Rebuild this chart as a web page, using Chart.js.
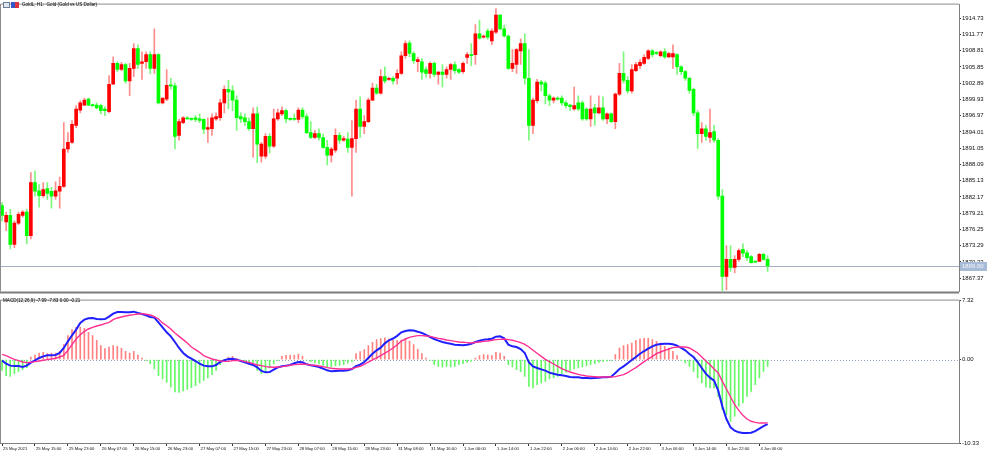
<!DOCTYPE html>
<html>
<head>
<meta charset="utf-8">
<script src="https://cdn.jsdelivr.net/npm/chart.js@4.4.1/dist/chart.umd.min.js"></script>
<style>
  html, body { margin: 0; padding: 0; background: #fff; }
  #wrap { position: relative; width: 987px; height: 456px; overflow: hidden; }
  #priceChart { position: absolute; left: 0; top: 0; }
  #macdChart { position: absolute; left: 0; top: 296px; }
</style>
</head>
<body>
<div id="wrap">
  <canvas id="priceChart" width="987" height="296"></canvas>
  <canvas id="macdChart" width="987" height="160"></canvas>
</div>
<script>
// GoldL H1 bars
const opens = [
  1880.6,1877.6,1878.8,1873.5,1877.4,1878.8,1879.4,1875.1,1884.8,1883.3,
  1882.4,1883.7,1883.2,1882.3,1883.2,1884.1,1890.9,1892.1,1895.2,1898.0,
  1898.9,1900.0,1898.9,1898.9,1898.8,1898.2,1897.7,1902.7,1906.5,1905.4,
  1906.3,1903.3,1905.6,1909.2,1906.5,1906.8,1908.1,1905.6,1908.1,1899.3,
  1900.0,1902.5,1902.4,1893.4,1895.7,1896.6,1896.4,1896.6,1896.4,1896.3,
  1894.5,1894.6,1896.4,1896.6,1899.3,1901.8,1901.5,1899.8,1896.8,1896.6,
  1895.9,1894.6,1897.3,1889.6,1889.6,1893.2,1891.4,1896.4,1897.3,1897.9,
  1896.4,1896.4,1896.3,1898.0,1896.8,1893.9,1893.0,1893.7,1893.0,1891.2,
  1889.8,1890.7,1893.4,1892.5,1892.7,1891.2,1892.8,1898.2,1895.0,1895.9,
  1899.8,1902.0,1901.1,1904.1,1903.6,1903.8,1903.8,1904.7,1907.9,1910.2,
  1908.3,1906.8,1906.8,1905.4,1904.7,1906.5,1904.5,1904.9,1904.5,1905.4,
  1906.3,1905.4,1905.0,1907.6,1908.1,1908.1,1911.9,1911.3,1912.4,1910.6,
  1912.2,1915.3,1912.8,1911.5,1905.6,1906.3,1908.8,1910.1,1903.8,1895.2,
  1899.7,1903.1,1902.9,1900.6,1899.8,1900.2,1900.2,1899.3,1898.9,1898.2,
  1899.3,1899.3,1898.2,1896.4,1898.4,1897.5,1898.4,1896.4,1897.3,1895.9,
  1900.9,1904.7,1903.4,1901.5,1905.2,1906.1,1906.5,1907.4,1908.8,1908.5,
  1907.9,1908.6,1907.7,1907.7,1908.1,1905.9,1905.0,1903.8,1901.8,1897.5,
  1893.7,1894.6,1893.0,1894.1,1892.5,1882.3,1867.7,1870.8,1869.3,1870.8,
  1872.6,1872.0,1871.3,1870.4,1870.4,1871.7,1870.8
];
const highs = [
  1881.2,1879.4,1879.9,1877.8,1879.4,1879.7,1879.9,1886.6,1886.9,1884.4,
  1884.8,1884.8,1883.9,1884.9,1885.8,1895.7,1893.9,1896.1,1898.8,1899.7,
  1900.2,1900.2,1899.1,1899.3,1899.1,1898.6,1904.3,1907.7,1906.8,1906.7,
  1906.5,1906.5,1910.1,1909.9,1908.6,1908.6,1908.6,1912.8,1908.3,1900.2,
  1905.4,1903.8,1902.9,1896.3,1896.8,1896.8,1896.6,1897.0,1897.3,1896.4,
  1896.6,1897.3,1897.5,1900.0,1902.4,1903.4,1902.4,1900.6,1897.5,1897.3,
  1896.6,1898.4,1898.6,1892.1,1893.7,1893.7,1898.2,1898.2,1898.6,1898.2,
  1896.6,1897.3,1898.4,1898.4,1897.3,1895.9,1894.3,1894.6,1893.6,1892.5,
  1891.2,1894.6,1893.9,1893.2,1893.9,1896.1,1899.8,1900.4,1897.0,1900.2,
  1902.9,1902.7,1905.4,1905.9,1904.0,1904.1,1905.4,1908.6,1910.6,1910.6,
  1908.6,1907.6,1907.4,1905.9,1906.8,1906.8,1905.0,1906.3,1905.9,1906.5,
  1906.8,1905.6,1906.8,1908.5,1910.1,1913.6,1914.4,1911.7,1912.8,1912.8,
  1916.5,1915.4,1913.5,1911.7,1909.0,1909.2,1911.0,1911.9,1909.0,1900.2,
  1903.6,1903.4,1903.3,1900.9,1900.4,1900.4,1900.6,1899.7,1899.1,1902.2,
  1900.6,1899.7,1898.4,1900.6,1899.1,1900.6,1900.4,1897.5,1897.5,1901.1,
  1906.5,1908.6,1904.1,1906.3,1906.7,1907.2,1908.1,1909.0,1909.0,1908.6,
  1908.8,1909.2,1908.5,1909.9,1908.3,1906.1,1905.2,1904.0,1902.0,1897.9,
  1895.7,1895.2,1898.2,1895.2,1892.8,1883.5,1873.3,1873.3,1871.5,1872.7,
  1873.6,1872.4,1871.5,1870.5,1871.9,1871.9,1871.5
];
const lows = [
  1877.8,1876.0,1872.7,1872.9,1877.1,1878.5,1873.6,1874.5,1882.3,1880.3,
  1882.1,1881.7,1880.1,1881.7,1880.1,1883.9,1890.3,1891.9,1894.8,1897.5,
  1898.8,1898.8,1898.6,1898.2,1897.3,1897.0,1897.5,1902.7,1905.0,1905.2,
  1902.9,1900.6,1904.1,1905.6,1903.6,1905.6,1904.7,1904.7,1899.1,1899.1,
  1899.7,1901.8,1890.9,1892.5,1895.5,1896.3,1896.1,1895.9,1895.7,1893.7,
  1892.1,1893.4,1896.1,1896.1,1897.5,1898.2,1897.9,1894.3,1895.7,1895.2,
  1894.3,1889.4,1888.4,1888.5,1889.2,1890.2,1891.2,1896.1,1897.0,1895.7,
  1896.1,1896.1,1895.7,1896.4,1893.7,1892.8,1892.8,1892.5,1891.0,1888.0,
  1888.5,1890.3,1891.9,1892.3,1890.3,1882.3,1890.3,1893.0,1893.7,1895.7,
  1899.7,1900.9,1900.9,1902.9,1903.4,1902.7,1902.7,1904.5,1907.4,1907.7,
  1906.5,1905.0,1903.6,1904.0,1903.8,1904.1,1902.7,1902.2,1903.8,1903.6,
  1904.7,1904.7,1904.7,1906.5,1906.1,1906.3,1910.9,1911.1,1910.9,1909.9,
  1911.9,1912.6,1911.3,1905.4,1905.0,1904.7,1906.3,1902.7,1892.5,1893.7,
  1899.3,1901.5,1899.1,1898.8,1899.3,1899.8,1898.9,1898.4,1897.9,1898.0,
  1897.9,1896.1,1896.1,1895.0,1895.2,1897.3,1896.1,1895.5,1895.7,1894.6,
  1900.6,1902.9,1901.1,1901.1,1905.0,1905.6,1906.3,1907.2,1907.7,1908.1,
  1907.7,1907.4,1907.6,1905.6,1904.5,1904.5,1903.4,1901.1,1897.0,1891.0,
  1892.1,1892.5,1892.1,1892.1,1881.7,1865.1,1865.2,1868.6,1868.3,1870.4,
  1871.3,1870.6,1870.1,1870.2,1870.4,1870.6,1868.6
];
const closes = [
  1878.8,1878.8,1873.5,1877.4,1879.0,1879.4,1875.1,1884.8,1883.2,1882.4,
  1883.5,1882.8,1882.3,1883.3,1884.1,1890.9,1892.1,1895.4,1898.2,1899.3,
  1899.8,1898.9,1898.8,1898.4,1897.9,1897.9,1902.7,1906.5,1905.4,1906.3,
  1903.3,1905.6,1909.2,1906.3,1906.8,1908.1,1905.6,1908.1,1899.3,1900.2,
  1902.5,1902.4,1893.2,1895.9,1896.6,1896.4,1896.3,1896.3,1896.1,1894.5,
  1894.8,1896.6,1896.8,1899.3,1901.8,1901.3,1899.8,1896.6,1896.4,1895.9,
  1894.6,1897.3,1891.8,1891.8,1893.2,1891.4,1896.4,1897.5,1897.9,1896.4,
  1896.3,1896.3,1898.0,1896.8,1893.9,1893.0,1893.7,1893.0,1891.2,1889.8,
  1890.9,1893.4,1892.5,1892.8,1891.2,1892.8,1898.2,1895.0,1895.9,1899.8,
  1902.0,1901.1,1904.1,1903.3,1903.8,1903.3,1904.7,1907.9,1910.1,1908.3,
  1907.0,1907.2,1904.9,1904.7,1906.5,1904.5,1904.9,1904.5,1905.4,1906.3,
  1905.2,1904.9,1906.5,1908.1,1907.9,1911.9,1911.1,1911.5,1911.3,1912.4,
  1915.3,1912.8,1911.5,1905.6,1906.5,1909.0,1910.1,1903.8,1895.2,1899.8,
  1903.1,1902.7,1900.6,1899.8,1900.2,1900.0,1899.3,1898.8,1898.6,1898.8,
  1898.2,1896.4,1896.4,1898.2,1897.5,1898.4,1896.4,1897.3,1895.9,1900.9,
  1904.7,1903.4,1901.5,1905.4,1906.3,1906.7,1907.6,1908.8,1908.1,1908.3,
  1908.6,1907.7,1908.3,1908.3,1905.9,1905.0,1903.8,1901.6,1897.5,1893.7,
  1894.6,1893.2,1893.9,1892.5,1882.3,1867.7,1870.8,1869.3,1870.8,1872.4,
  1871.9,1871.1,1870.2,1870.3,1871.7,1870.8,1869.6
];

// MACD(12,26,9) panel
const macdLine = [
  -0.12,-0.50,-0.74,-0.79,-0.79,-0.91,-0.74,-0.37,-0.08,0.21,
  0.41,0.54,0.54,0.58,0.83,1.45,2.27,3.02,3.72,4.55,
  4.96,5.12,5.17,5.04,5.00,5.04,5.33,5.70,5.91,5.91,
  5.87,5.87,5.95,5.79,5.66,5.50,5.29,5.21,4.63,4.01,
  3.39,2.89,2.19,1.45,0.83,0.41,0.12,-0.17,-0.50,-0.74,
  -0.83,-0.83,-0.66,-0.29,-0.08,0.08,0.12,0.00,-0.17,-0.33,
  -0.50,-0.66,-0.95,-1.40,-1.57,-1.53,-1.24,-0.95,-0.83,-0.74,
  -0.66,-0.45,-0.29,-0.33,-0.58,-0.70,-0.79,-0.91,-1.12,-1.32,
  -1.45,-1.40,-1.36,-1.36,-1.32,-1.16,-0.79,-0.62,-0.29,0.21,
  0.74,1.16,1.49,2.02,2.40,2.62,2.95,3.39,3.55,3.64,
  3.60,3.47,3.31,3.06,2.81,2.56,2.36,2.19,2.07,1.98,
  1.86,1.82,1.78,1.86,1.98,2.19,2.36,2.48,2.52,2.60,
  2.85,2.89,2.64,1.86,1.65,1.57,1.32,0.83,-0.33,-0.83,
  -1.03,-1.20,-1.36,-1.61,-1.74,-1.86,-1.94,-2.02,-2.15,-2.19,
  -2.19,-2.27,-2.27,-2.31,-2.27,-2.23,-2.19,-2.19,-2.11,-1.65,
  -1.16,-0.83,-0.45,-0.04,0.33,0.74,1.07,1.36,1.65,1.86,
  1.94,1.98,1.98,1.90,1.74,1.45,1.16,0.70,0.33,-0.29,
  -1.03,-1.74,-2.23,-2.60,-3.84,-5.79,-7.36,-8.39,-8.80,-9.01,
  -9.09,-9.09,-9.05,-8.85,-8.55,-8.25,-7.99
];
const signalLine = [
  0.66,0.50,0.25,0.04,-0.12,-0.29,-0.37,-0.33,-0.25,-0.17,
  -0.08,0.00,0.08,0.17,0.33,0.54,1.16,1.86,2.56,3.10,
  3.51,3.80,4.01,4.17,4.30,4.46,4.63,4.96,5.17,5.29,
  5.41,5.50,5.58,5.66,5.70,5.62,5.54,5.33,5.04,4.55,
  4.21,3.80,3.31,2.89,2.48,2.07,1.57,1.24,0.91,0.50,
  0.29,0.08,-0.04,-0.17,-0.21,-0.21,-0.12,-0.08,-0.12,-0.25,
  -0.33,-0.50,-0.66,-0.74,-0.87,-0.91,-0.95,-0.91,-0.87,-0.79,
  -0.70,-0.62,-0.58,-0.54,-0.58,-0.66,-0.70,-0.79,-0.87,-0.99,
  -1.07,-1.12,-1.16,-1.16,-1.16,-1.12,-0.95,-0.83,-0.58,-0.29,
  -0.04,0.21,0.50,0.80,1.10,1.45,1.85,2.31,2.56,2.77,
  2.89,2.98,2.98,2.93,2.89,2.77,2.64,2.56,2.44,2.36,
  2.27,2.19,2.15,2.11,2.07,2.15,2.19,2.27,2.31,2.40,
  2.48,2.52,2.56,2.48,2.40,2.27,2.11,1.90,1.57,1.16,
  0.79,0.41,0.04,-0.25,-0.54,-0.83,-1.12,-1.32,-1.53,-1.69,
  -1.82,-1.94,-2.02,-2.07,-2.11,-2.15,-2.15,-2.15,-2.15,-2.11,
  -1.98,-1.86,-1.61,-1.28,-0.99,-0.62,-0.25,0.08,0.41,0.74,
  0.95,1.16,1.32,1.49,1.57,1.57,1.57,1.45,1.16,0.83,
  0.33,-0.17,-0.62,-1.16,-1.65,-2.69,-3.64,-4.63,-5.58,-6.28,
  -6.90,-7.36,-7.64,-7.78,-7.86,-7.86,-7.83
];
const histogram = [
  -1.32,-1.98,-2.07,-1.74,-1.49,-1.24,-0.99,0.33,0.58,0.83,
  0.91,0.74,0.83,0.83,1.03,1.86,2.98,3.72,4.01,4.05,
  3.88,3.39,2.98,2.40,1.74,1.36,1.57,1.74,1.65,1.40,
  1.03,0.83,1.03,0.58,0.21,-0.08,-0.50,-1.16,-1.98,-2.40,
  -2.81,-3.39,-4.01,-4.05,-3.88,-3.68,-3.47,-3.22,-2.89,-2.56,
  -2.27,-1.86,-1.32,-0.62,-0.08,0.33,0.41,0.17,-0.25,-0.41,
  -0.50,-0.74,-1.32,-1.74,-1.57,-1.03,-0.54,-0.10,0.41,0.54,
  0.54,0.58,0.70,0.41,-0.05,-0.25,-0.41,-0.54,-0.70,-0.87,
  -0.87,-0.79,-0.70,-0.62,-0.45,-0.25,0.74,0.99,1.24,1.74,
  2.15,2.48,2.60,2.69,2.56,2.44,2.40,2.44,2.56,2.31,
  1.86,1.28,0.74,0.21,-0.10,-0.62,-0.83,-0.91,-0.83,-0.91,
  -0.83,-0.62,-0.50,-0.33,-0.21,0.21,0.50,0.62,0.58,0.50,
  0.91,0.83,0.41,-0.62,-0.91,-1.24,-1.49,-2.07,-3.31,-3.51,
  -3.10,-2.89,-2.69,-2.40,-2.27,-2.07,-1.74,-1.57,-1.32,-1.16,
  -1.03,-0.91,-0.74,-0.62,-0.50,-0.33,-0.25,-0.17,-0.08,0.62,
  1.45,1.74,1.86,2.07,2.40,2.56,2.64,2.64,2.48,2.27,
  2.07,1.65,1.45,1.03,0.50,-0.10,-0.41,-0.83,-1.45,-2.27,
  -2.89,-3.39,-3.51,-3.51,-4.55,-6.20,-6.82,-7.64,-7.02,-5.79,
  -5.37,-4.55,-3.93,-3.10,-2.27,-1.45,-0.83
];

// axis labels
const priceTicks = [1914.73,1911.77,1908.81,1905.85,1902.89,1899.93,1896.97,1894.01,1891.05,
  1888.09,1885.13,1882.17,1879.21,1876.25,1873.29,1870.33,1867.37];
const macdTicks = [7.32, 0, -10.33];
const timeTicks = ['25 May 2021','25 May 15:00','25 May 23:00','26 May 07:00','26 May 15:00',
  '26 May 23:00','27 May 07:00','27 May 15:00','27 May 23:00','28 May 07:00','28 May 15:00',
  '28 May 23:00','31 May 08:00','31 May 16:00','1 Jun 06:00','1 Jun 14:00','1 Jun 22:00',
  '2 Jun 06:00','2 Jun 14:00','2 Jun 22:00','3 Jun 06:00','3 Jun 14:00','3 Jun 22:00','4 Jun 06:00'];

const SLOTS = 233;      // visible bar slots incl. empty right margin
const TICK_EVERY = 8;
const AXIS_W = 28;
const UP = '#ff0000', DOWN = '#00ff00';

const slotLabels = Array.from({length: SLOTS}, (_, i) =>
  (i % TICK_EVERY === 0 && timeTicks[i / TICK_EVERY]) ? timeTicks[i / TICK_EVERY] : '');

const isUp = i => closes[i] >= opens[i];

// frame, captions, price line, zero line
const panelDeco = {
  id: 'panelDeco',
  beforeDatasetsDraw(chart, args, opts) {
    const {ctx, chartArea: a, scales} = chart;
    ctx.save();
    if (opts.priceLine != null) {
      const y = Math.round(scales.y.getPixelForValue(opts.priceLine)) + 0.5;
      ctx.strokeStyle = '#a3afbf';
      ctx.lineWidth = 1;
      ctx.beginPath(); ctx.moveTo(a.left, y); ctx.lineTo(a.right, y); ctx.stroke();
    }
    if (opts.zeroLine) {
      const y = Math.round(scales.y.getPixelForValue(0)) + 0.5;
      ctx.strokeStyle = '#8fa3bd';
      ctx.setLineDash([1, 2]);
      ctx.beginPath(); ctx.moveTo(a.left, y); ctx.lineTo(a.right, y); ctx.stroke();
    }
    ctx.restore();
  },
  afterDraw(chart, args, opts) {
    const {ctx, chartArea: a, scales} = chart;
    ctx.save();
    ctx.strokeStyle = '#8c8c8c';
    ctx.lineWidth = 1;
    ctx.beginPath();
    ctx.moveTo(a.left + 0.5, a.bottom); ctx.lineTo(a.left + 0.5, a.top - 0.5);
    ctx.lineTo(a.right, a.top - 0.5);
    ctx.stroke();
    if (opts.thickBottom) {
      ctx.lineWidth = 2;
      ctx.strokeStyle = '#7d7d7d';
      ctx.beginPath(); ctx.moveTo(a.left, a.bottom + 1); ctx.lineTo(a.right, a.bottom + 1); ctx.stroke();
    }
    if (opts.icon) {
      ctx.fillStyle = '#dfe6f0'; ctx.fillRect(3, 2, 7, 6);
      ctx.strokeStyle = '#6d7f99'; ctx.lineWidth = 1; ctx.strokeRect(3.5, 2.5, 6, 5);
      ctx.fillStyle = '#3557c8'; ctx.fillRect(11, 2, 4, 6);
      ctx.fillStyle = '#d8343a'; ctx.fillRect(15, 2, 4, 6);
    }
    if (opts.caption) {
      ctx.fillStyle = '#000';
      ctx.font = '4.6px "Liberation Sans"';
      ctx.textBaseline = 'middle';
      ctx.fillText(opts.caption, opts.captionX, opts.captionY);
    }
    if (opts.priceLine != null) {
      const y = Math.round(scales.y.getPixelForValue(opts.priceLine));
      ctx.fillStyle = '#a7bad6';
      ctx.fillRect(a.right + 1, y - 4, 27, 9);
      ctx.fillStyle = '#f5f8fd';
      ctx.font = '6px "Liberation Sans"';
      ctx.textBaseline = 'middle';
      ctx.fillText(opts.priceLine.toFixed(2), a.right + 3, y + 0.5);
    }
    ctx.restore();
  }
};

const yTickFont = {family: 'Liberation Sans', size: 6};

new Chart(document.getElementById('priceChart'), {
  type: 'bar',
  data: {
    labels: slotLabels,
    datasets: [
      {
        label: 'wick',
        data: lows.map((l, i) => [l, highs[i]]),
        backgroundColor: c => isUp(c.dataIndex) ? '#ff8c8c' : '#7cf87c',
        barThickness: 1,
        grouped: false,
        order: 2
      },
      {
        label: 'body',
        data: opens.map((o, i) => [o, closes[i]]),
        backgroundColor: c => isUp(c.dataIndex) ? UP : DOWN,
        barThickness: 3,
        minBarLength: 1,
        grouped: false,
        order: 1
      }
    ]
  },
  options: {
    responsive: false,
    animation: false,
    layout: {padding: {left: 0, right: 0, top: 2, bottom: 3}},
    plugins: {
      legend: {display: false},
      tooltip: {enabled: false},
      panelDeco: {
        priceLine: closes[closes.length - 1],
        thickBottom: true,
        icon: true,
        caption: 'GoldL, H1:  Gold (Gold vs US Dollar)',
        captionX: 22, captionY: 5
      }
    },
    scales: {
      x: {type: 'category', display: false, offset: true, grid: {display: false}},
      y: {
        position: 'right',
        min: 1864.95, max: 1917.22,
        afterFit: s => { s.width = AXIS_W; },
        afterBuildTicks: s => { s.ticks = priceTicks.map(v => ({value: v})); },
        grid: {drawOnChartArea: false, drawTicks: true, tickLength: 2, tickColor: '#333'},
        border: {display: true, color: '#808080'},
        ticks: {font: yTickFont, color: '#111', padding: 1, callback: v => v.toFixed(2)}
      }
    }
  },
  plugins: [panelDeco]
});

new Chart(document.getElementById('macdChart'), {
  type: 'bar',
  data: {
    labels: slotLabels,
    datasets: [
      {
        type: 'line', label: 'Signal', data: signalLine,
        borderColor: '#ff2f92', borderWidth: 1.4, pointRadius: 0, order: 1
      },
      {
        type: 'line', label: 'MACD', data: macdLine,
        borderColor: '#2020ff', borderWidth: 2, pointRadius: 0, order: 2
      },
      {
        label: 'Hist', data: histogram,
        backgroundColor: c => histogram[c.dataIndex] >= 0 ? '#ff8080' : '#66f866',
        barThickness: 1, grouped: false, order: 3
      }
    ]
  },
  options: {
    responsive: false,
    animation: false,
    layout: {padding: {left: 0, right: 0, top: 1, bottom: 0}},
    plugins: {
      legend: {display: false},
      tooltip: {enabled: false},
      panelDeco: {
        zeroLine: true,
        caption: 'MACD(12,26,9) -7.99 -7.83 0.00 -0.21',
        captionX: 3, captionY: 5
      }
    },
    scales: {
      x: {
        type: 'category', offset: true,
        afterFit: s => { s.height = 13; },
        afterBuildTicks: s => { s.ticks = s.ticks.filter(t => t.value % TICK_EVERY === 0 && slotLabels[t.value]); },
        grid: {display: true, offset: false, drawOnChartArea: false, drawTicks: true, tickLength: 3, tickColor: '#333'},
        border: {display: true, color: '#808080'},
        ticks: {autoSkip: false, maxRotation: 0, align: 'start', labelOffset: 1, padding: 0,
          font: {family: 'Liberation Sans', size: 4.2}, color: '#111'}
      },
      y: {
        position: 'right',
        min: -10.33, max: 7.32,
        afterFit: s => { s.width = AXIS_W; },
        afterBuildTicks: s => { s.ticks = macdTicks.map(v => ({value: v})); },
        grid: {drawOnChartArea: false, drawTicks: true, tickLength: 2, tickColor: '#333'},
        border: {display: true, color: '#808080'},
        ticks: {font: yTickFont, color: '#111', padding: 1, callback: v => v.toFixed(2)}
      }
    }
  },
  plugins: [panelDeco]
});
</script>
</body>
</html>
